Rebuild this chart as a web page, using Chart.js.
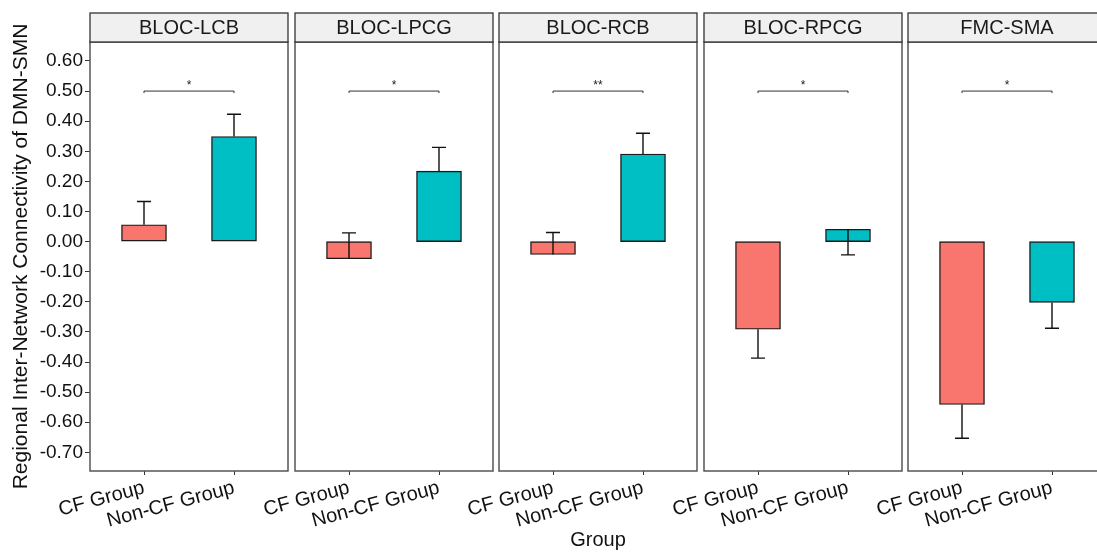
<!DOCTYPE html>
<html>
<head>
<meta charset="utf-8">
<script src="https://cdn.jsdelivr.net/npm/chart.js@4.4.1/dist/chart.umd.min.js"></script>
<style>
  body { margin: 0; width: 1097px; height: 554px; overflow: hidden; background: #fff; position: relative; }
  canvas { position: absolute; top: 0; }
</style>
</head>
<body>
<canvas id="p0"></canvas>
<canvas id="p1"></canvas>
<canvas id="p2"></canvas>
<canvas id="p3"></canvas>
<canvas id="p4"></canvas>
<script>
// data
const facets = ['BLOC-LCB', 'BLOC-LPCG', 'BLOC-RCB', 'BLOC-RPCG', 'FMC-SMA'];
const groups = ['CF Group', 'Non-CF Group'];
const cfMeans = [0.056, -0.057, -0.043, -0.291, -0.541];
const cfErrEnds = [0.133, 0.029, 0.030, -0.387, -0.653];
const nonCfMeans = [0.349, 0.234, 0.291, 0.041, -0.202];
const nonCfErrEnds = [0.423, 0.313, 0.360, -0.044, -0.288];
const sigLabels = ['*', '*', '**', '*', '*'];
const sigLevel = 0.50;
const yTickValues = [0.6, 0.5, 0.4, 0.3, 0.2, 0.1, 0, -0.1, -0.2, -0.3, -0.4, -0.5, -0.6, -0.7];

const colors = ['#F8766D', '#00BFC4'];
const FONT = '"Liberation Sans", Arial, sans-serif';
Chart.defaults.font.family = FONT;
Chart.defaults.color = '#111';

const H = 554, TOP = 42, XAXIS_H = 83, PANEL_W = 198, LEFT0 = 90, STEP = 204.6, PAD_L = 60, PAD_R = 10;

const facetDecor = {
  id: 'facetDecor',
  afterDatasetsDraw(chart, args, opts) {
    const { ctx, chartArea: a, scales: { x, y } } = chart;
    const i = opts.index;
    ctx.save();
    // error bars
    ctx.strokeStyle = '#111';
    ctx.lineWidth = 1.4;
    [[cfMeans[i], cfErrEnds[i]], [nonCfMeans[i], nonCfErrEnds[i]]].forEach((p, k) => {
      const xc = x.getPixelForValue(k + 1);
      const y0 = y.getPixelForValue(p[0]);
      const y1 = y.getPixelForValue(p[1]);
      const xl = x.getPixelForValue(k + 1 - 0.078), xr = x.getPixelForValue(k + 1 + 0.078);
      ctx.beginPath();
      ctx.moveTo(xc, y0); ctx.lineTo(xc, y1);
      ctx.moveTo(xl, y1); ctx.lineTo(xr, y1);
      ctx.stroke();
    });
    // significance bracket
    const ys = y.getPixelForValue(sigLevel);
    const x1 = x.getPixelForValue(1), x2 = x.getPixelForValue(2);
    ctx.strokeStyle = '#333';
    ctx.lineWidth = 1;
    ctx.beginPath();
    ctx.moveTo(x1, ys + 2); ctx.lineTo(x1, ys); ctx.lineTo(x2, ys); ctx.lineTo(x2, ys + 2);
    ctx.stroke();
    ctx.fillStyle = '#222';
    ctx.font = '12px ' + FONT;
    ctx.textAlign = 'center';
    ctx.textBaseline = 'alphabetic';
    ctx.fillText(sigLabels[i], (x1 + x2) / 2, ys - 2);
    // panel frame
    ctx.strokeStyle = '#555';
    ctx.lineWidth = 1.5;
    ctx.strokeRect(a.left, a.top, a.right - a.left, a.bottom - a.top);
    // strip
    ctx.fillStyle = '#f0f0f0';
    ctx.fillRect(a.left, a.top - 29, a.right - a.left, 29);
    ctx.strokeStyle = '#333';
    ctx.lineWidth = 1.3;
    ctx.strokeRect(a.left, a.top - 29, a.right - a.left, 29);
    ctx.fillStyle = '#1a1a1a';
    ctx.font = '20px ' + FONT;
    ctx.textBaseline = 'middle';
    ctx.fillText(facets[i], (a.left + a.right) / 2, a.top - 14);
    ctx.restore();
  }
};

facets.forEach((name, i) => {
  const canvas = document.getElementById('p' + i);
  const panelLeft = Math.round(LEFT0 + i * STEP);
  const first = i === 0;
  const canvasLeft = first ? 0 : panelLeft - PAD_L;
  const width = first ? LEFT0 + PANEL_W + PAD_R : PAD_L + PANEL_W + PAD_R;
  canvas.width = width;
  canvas.height = H;
  canvas.style.left = canvasLeft + 'px';

  new Chart(canvas, {
    type: 'bar',
    data: {
      datasets: [{
        data: [{ x: 1, y: cfMeans[i] }, { x: 2, y: nonCfMeans[i] }],
        backgroundColor: colors,
        borderColor: '#1a1a1a',
        borderWidth: 1.4,
        borderSkipped: false,
        barThickness: 45
      }]
    },
    options: {
      responsive: false,
      animation: false,
      layout: { padding: { left: first ? 0 : PAD_L, right: PAD_R, top: TOP, bottom: 0 } },
      plugins: {
        legend: { display: false },
        tooltip: { enabled: false },
        facetDecor: { index: i }
      },
      scales: {
        x: {
          type: 'linear', min: 0.4, max: 2.6, offset: false,
          afterBuildTicks: s => { s.ticks = groups.map((g, k) => ({ value: k + 1 })); },
          afterFit: s => { s.height = XAXIS_H; s.paddingLeft = 0; s.paddingRight = 0; },
          ticks: {
            callback: (v, k) => groups[k],
            minRotation: 15, maxRotation: 15, autoSkip: false,
            font: { size: 20 }, color: '#111', padding: 1
          },
          grid: { display: true, offset: false, drawOnChartArea: false, drawTicks: true, tickLength: 4, color: '#333' },
          border: { display: false },
          title: {
            display: i === 2, text: 'Group', font: { size: 20 }, color: '#111',
            padding: { top: 0, bottom: 2 }
          }
        },
        y: {
          display: first,
          min: -0.762, max: 0.663,
          afterBuildTicks: s => { s.ticks = yTickValues.map(v => ({ value: v })); },
          afterFit: s => { s.width = first ? LEFT0 : 0; },
          ticks: { callback: v => v.toFixed(2), font: { size: 19 }, color: '#111', padding: 2 },
          grid: { display: true, drawOnChartArea: false, drawTicks: true, tickLength: 5, color: '#333' },
          border: { display: false },
          title: {
            display: true, text: 'Regional Inter-Network Connectivity of DMN-SMN',
            font: { size: 21 }, color: '#111', padding: { top: 9, bottom: 0 }
          }
        }
      }
    },
    plugins: [facetDecor]
  });
});
</script>
</body>
</html>
